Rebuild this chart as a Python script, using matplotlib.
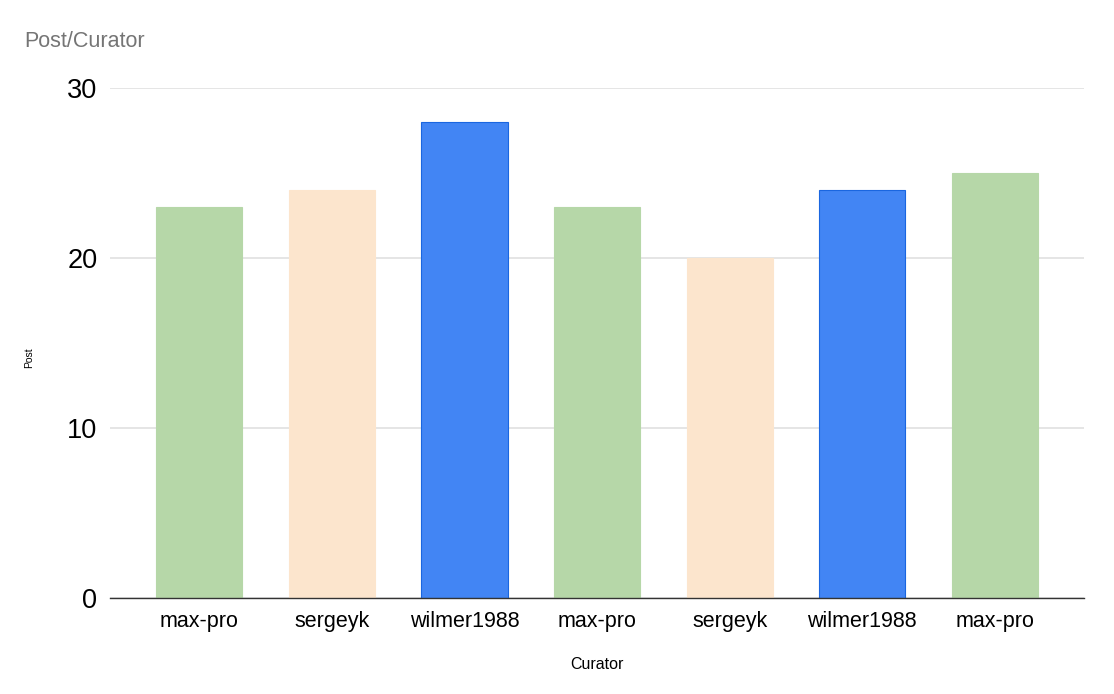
import matplotlib
matplotlib.use("Agg")
import matplotlib.pyplot as plt

plt.rcParams['font.family'] = ['Liberation Sans', 'DejaVu Sans']

# data
curators = ['max-pro', 'sergeyk', 'wilmer1988', 'max-pro', 'sergeyk', 'wilmer1988', 'max-pro']
posts = [23, 24, 28, 23, 20, 24, 25]
colour_of = {'max-pro': '#b6d7a8', 'sergeyk': '#fce5cd', 'wilmer1988': '#4285f4'}
edge_of = {'max-pro': '#b6d7a8', 'sergeyk': '#fce5cd', 'wilmer1988': '#1a66e0'}
yticks = [0, 10, 20, 30]

fig = plt.figure(figsize=(11.14, 6.94), dpi=100)
ax = fig.add_axes([0.0987, 0.1383, 0.8745, 0.7349])

x = range(len(posts))
ax.bar(x, posts, width=0.65,
       color=[colour_of[c] for c in curators],
       edgecolor=[edge_of[c] for c in curators], linewidth=0.8, zorder=3)

ax.set_xlim(-0.675, len(posts) - 1 + 0.675)
ax.set_ylim(0, 30)
ax.set_yticks(yticks)
ax.set_yticklabels([str(v) for v in yticks], fontsize=19.5, color='#000000')
ax.set_xticks(list(x))
ax.set_xticklabels(curators, fontsize=15.5, color='#000000')
ax.tick_params(axis='both', length=0)
ax.tick_params(axis='y', pad=9)
ax.tick_params(axis='x', pad=9)

ax.grid(axis='y', color='#e0e0e0', linewidth=1.2, zorder=0)
for s in ['top', 'right', 'left']:
    ax.spines[s].set_visible(False)
ax.spines['bottom'].set_color('#333333')
ax.spines['bottom'].set_linewidth(1.0)
ax.spines['bottom'].set_zorder(4)

ax.set_xlabel('Curator', fontsize=11.5, color='#000000', labelpad=18)
fig.text(0.026, 0.484, 'Post', rotation=90, fontsize=7.5, ha='center', va='center')
fig.text(0.0215, 0.940, 'Post/Curator', fontsize=15.5, color='#757575', ha='left', va='center')

fig.savefig('out.png', dpi=100)
